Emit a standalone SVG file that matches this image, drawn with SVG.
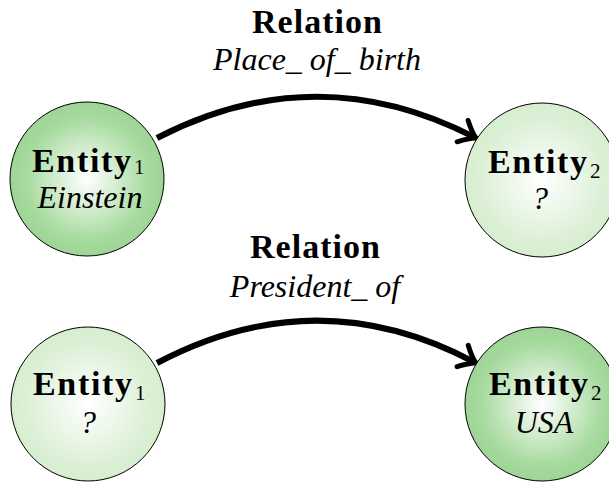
<svg xmlns="http://www.w3.org/2000/svg" width="609" height="483" viewBox="0 0 609 483">
<defs>
<radialGradient id="gDark" cx="0.5" cy="0.5" r="0.5">
<stop offset="0" stop-color="#ffffff"/>
<stop offset="0.8" stop-color="#a6da9e"/>
<stop offset="1" stop-color="#9ed596"/>
</radialGradient>
<radialGradient id="gLight" cx="0.5" cy="0.5" r="0.5">
<stop offset="0" stop-color="#ffffff"/>
<stop offset="0.8" stop-color="#dcf0d6"/>
<stop offset="1" stop-color="#d6eecf"/>
</radialGradient>
<marker id="arrow" markerUnits="userSpaceOnUse" markerWidth="40" markerHeight="40" viewBox="-20 -20 40 40" refX="0" refY="0" orient="auto" overflow="visible">
<path d="M -12 -12 Q -3 -3 3 0 Q -3 3 -12 12" fill="none" stroke="#000" stroke-width="5" stroke-linecap="round" stroke-linejoin="round"/>
</marker>
<style>
.node circle { stroke: #000; stroke-width: 1; }
.bold { font-family: "Liberation Serif", "Times New Roman", serif; font-weight: bold; font-size: 34px; fill: #000; }
.sub { font-family: "Liberation Serif", "Times New Roman", serif; font-size: 21px; fill: #000; }
.ital { font-family: "Liberation Serif", "Times New Roman", serif; font-style: italic; font-size: 32px; fill: #000; text-anchor: middle; }
.lbl { text-anchor: middle; }
.edge { fill: none; stroke: #000; stroke-width: 6; marker-end: url(#arrow); }
</style>
</defs>
<rect width="609" height="483" fill="#ffffff"/>

<g id="connectors">
<path class="edge" d="M 157 138 Q 316 56 473.3 136.6"/>
<path class="edge" d="M 157 363 Q 316 279 473.3 361.6"/>
</g>

<g id="label-top">
<text class="bold lbl" x="317" y="33" textLength="130">Relation</text>
<text class="ital" x="317" y="70">Place_ of_ birth</text>
</g>
<g id="label-bottom">
<text class="bold lbl" x="315" y="258" textLength="130">Relation</text>
<text class="ital" x="315" y="297">President_ of</text>
</g>

<g id="node-einstein" class="node">
<circle cx="87" cy="179" r="77" fill="url(#gDark)"/>
<text class="bold" x="32" y="172" textLength="99">Entity</text>
<text class="sub" x="134" y="174">1</text>
<text class="ital" x="90" y="208">Einstein</text>
</g>

<g id="node-entity2-top" class="node">
<circle cx="542" cy="180" r="77" fill="url(#gLight)"/>
<text class="bold" x="488" y="173" textLength="99">Entity</text>
<text class="sub" x="590" y="178">2</text>
<text class="ital" x="540" y="209">?</text>
</g>

<g id="node-entity1-bottom" class="node">
<circle cx="88" cy="404" r="77" fill="url(#gLight)"/>
<text class="bold" x="33" y="395" textLength="99">Entity</text>
<text class="sub" x="135" y="400">1</text>
<text class="ital" x="88" y="433">?</text>
</g>

<g id="node-usa" class="node">
<circle cx="542" cy="404" r="77" fill="url(#gDark)"/>
<text class="bold" x="489" y="395" textLength="99">Entity</text>
<text class="sub" x="591" y="400">2</text>
<text class="ital" x="544" y="433">USA</text>
</g>
</svg>
